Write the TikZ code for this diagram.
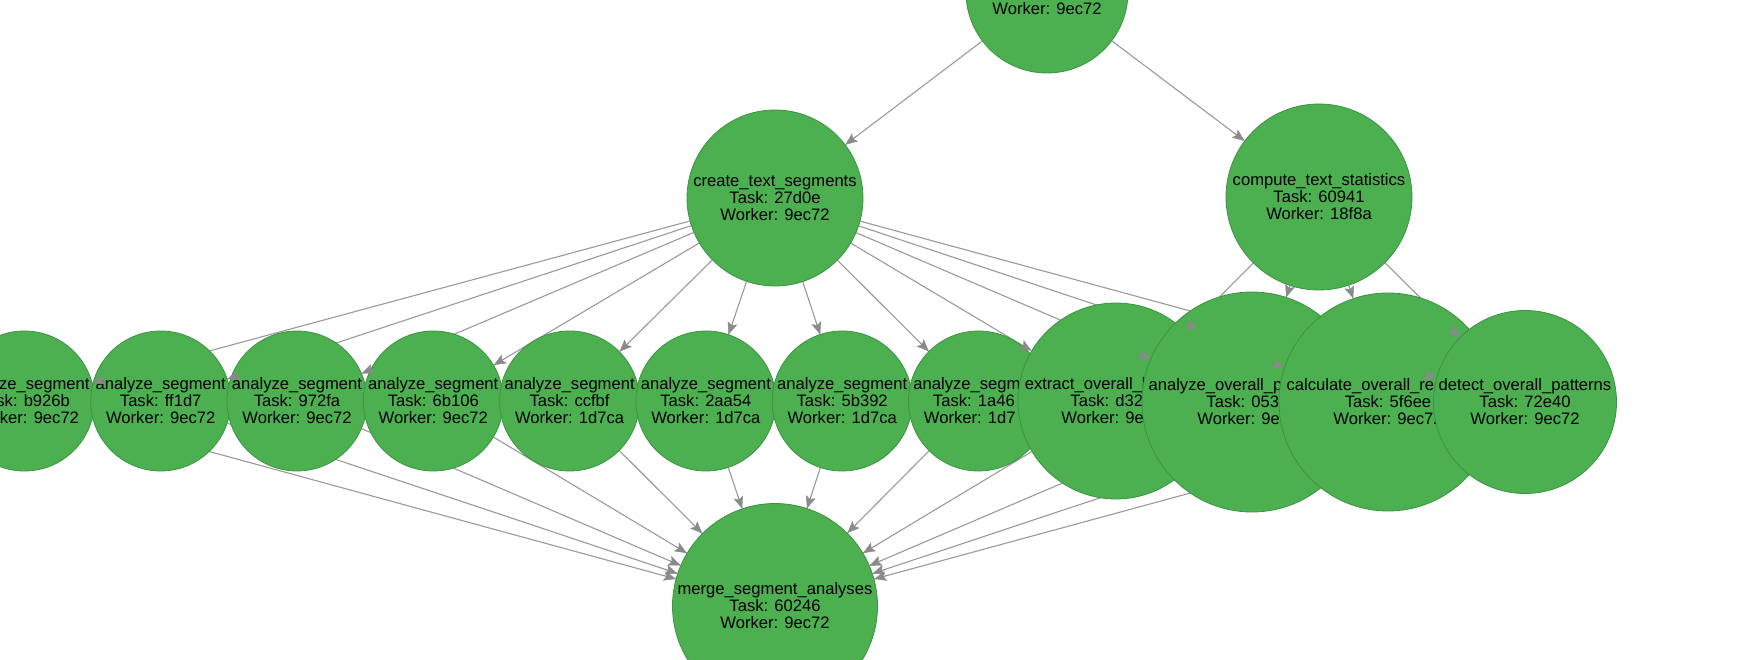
\documentclass[tikz,border=0pt]{standalone}
\usepackage{fontspec}
\setmainfont{Liberation Sans}
\usetikzlibrary{arrows.meta,calc}
\pgfdeclarelayer{edgebg}
\pgfdeclarelayer{tipfg}
\pgfsetlayers{edgebg,main,tipfg}
\definecolor{nodefill}{HTML}{4CAF50}
\definecolor{nodeline}{HTML}{3B9440}
\definecolor{edgecol}{HTML}{9A9A9A}
\definecolor{tipcol}{HTML}{8A8A8A}
\tikzset{
  task/.style={circle, fill=nodefill, draw=nodeline, line width=0.8pt, inner sep=0pt,
    align=center, text=black, font=\fontsize{16.6}{17}\selectfont},
  edgeline/.style={draw=edgecol, line width=1.1pt},
  tipline/.style={draw=tipcol, fill=tipcol, line width=0.4pt,
    -{Stealth[length=12pt,width=10pt,inset=2.5pt]}}
}
\newcommand\edgeto[2]{%
  \begin{pgfonlayer}{edgebg}\draw[edgeline] (#1) -- (#2);\end{pgfonlayer}%
  \begin{pgfonlayer}{tipfg}%
    \path (#1) -- (#2) coordinate[pos=0] (sX) coordinate[pos=1] (eX);%
    \draw[tipline] ($(eX)!13pt!(sX)$) -- (eX);%
  \end{pgfonlayer}}
\begin{document}
\begin{tikzpicture}[x=1pt,y=-1pt]
\begin{pgfonlayer}{edgebg}
\fill[white] (0,0) rectangle (1738,660);
\end{pgfonlayer}
\useasboundingbox (0,0) rectangle (1738,660);
% bottom row, drawn left to right
\node[task, minimum size=140pt] (s0) at (24.4,401) {analyze\_segment\\Task: b926b\\Worker: 9ec72};
\node[task, minimum size=140pt] (s1) at (160.7,401) {analyze\_segment\\Task: ff1d7\\Worker: 9ec72};
\node[task, minimum size=140pt] (s2) at (297,401) {analyze\_segment\\Task: 972fa\\Worker: 9ec72};
\node[task, minimum size=140pt] (s3) at (433.3,401) {analyze\_segment\\Task: 6b106\\Worker: 9ec72};
\node[task, minimum size=140pt] (s4) at (569.6,401) {analyze\_segment\\Task: ccfbf\\Worker: 1d7ca};
\node[task, minimum size=140pt] (s5) at (705.9,401) {analyze\_segment\\Task: 2aa54\\Worker: 1d7ca};
\node[task, minimum size=140pt] (s6) at (842.2,401) {analyze\_segment\\Task: 5b392\\Worker: 1d7ca};
\node[task, minimum size=140pt] (s7) at (978.5,401) {analyze\_segment\\Task: 1a46\phantom{0}\\Worker: 1d7\phantom{ca}};
\node[task, minimum size=196pt] (ext) at (1116,401) {extract\_overall\_k\hspace*{57pt}\\Task: d32\phantom{00}\\Worker: 9e\phantom{c72}};
\node[task, minimum size=220pt] (aov) at (1252,402) {analyze\_overall\_p\hspace*{73pt}\\Task: 053\phantom{00}\\Worker: 9e\phantom{c72}};
\node[task, minimum size=218pt] (calc) at (1388,402) {calculate\_overall\_rea\hspace*{46pt}\\Task: 5f6ee\\Worker: 9ec72};
\node[task, minimum size=183pt] (det) at (1525,402) {detect\_overall\_patterns\\Task: 72e40\\Worker: 9ec72};
% upper nodes
\node[task, minimum size=162pt] (top) at (1047,-8) {\phantom{X}\\\phantom{X}\\Worker: 9ec72};
\node[task, minimum size=176pt] (create) at (775,198) {create\_text\_segments\\Task: 27d0e\\Worker: 9ec72};
\node[task, minimum size=186pt] (comp) at (1319,197) {compute\_text\_statistics\\Task: 60941\\Worker: 18f8a};
\node[task, minimum size=205pt] (merge) at (775,606) {merge\_segment\_analyses\\Task: 60246\\Worker: 9ec72};
% edges
\edgeto{top}{create}
\edgeto{top}{comp}
\foreach \n in {s0,s1,s2,s3,s4,s5,s6,s7,ext,aov,calc,det} {\edgeto{create}{\n}}
\foreach \n in {ext,aov,calc,det} {\edgeto{comp}{\n}}
\foreach \n in {s0,s1,s2,s3,s4,s5,s6,s7,ext,aov,calc,det} {\edgeto{\n}{merge}}
\end{tikzpicture}
\end{document}
